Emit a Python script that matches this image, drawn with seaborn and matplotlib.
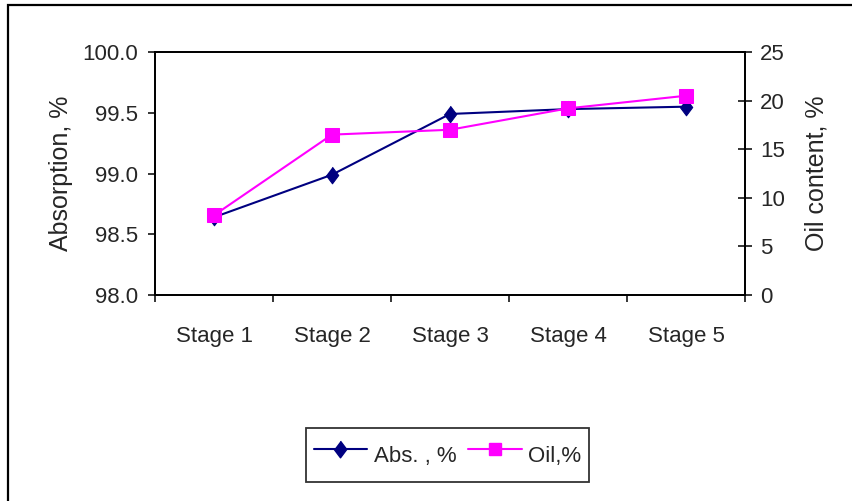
import matplotlib
matplotlib.use("Agg")
import matplotlib.pyplot as plt
from matplotlib.patches import Rectangle
from matplotlib.lines import Line2D
from matplotlib.ticker import FixedLocator, FormatStrFormatter
import pandas as pd
import seaborn as sns

# Data
stages = ["Stage 1", "Stage 2", "Stage 3", "Stage 4", "Stage 5"]
absorption = [98.64, 98.99, 99.49, 99.53, 99.55]
oil_content = [8.2, 16.5, 17.0, 19.2, 20.5]
left_ticks = [98.0, 98.5, 99.0, 99.5, 100.0]
right_ticks = [0, 5, 10, 15, 20, 25]

sns.set_style("white")
plt.rcParams["font.family"] = ["Liberation Sans", "DejaVu Sans"]
TICK_SIZE = 16

NAVY = "#000080"
MAGENTA = "#FF00FF"

df = pd.DataFrame({"stage": stages, "abs": absorption, "oil": oil_content})

fig = plt.figure(figsize=(8.52, 5.01), dpi=100)
fig.patch.set_facecolor("white")
ax = fig.add_axes([155 / 852, 1 - 295 / 501, 590 / 852, 243 / 501])
ax2 = ax.twinx()

diamond = [(0, 1), (0.75, 0), (0, -1), (-0.75, 0)]
D_SIZE = 12
S_SIZE = 10

sns.lineplot(data=df, x="stage", y="abs", ax=ax, color=NAVY, lw=1.5,
             marker=diamond, markersize=D_SIZE, markeredgecolor=NAVY,
             markerfacecolor=NAVY, sort=False, legend=False)
sns.lineplot(data=df, x="stage", y="oil", ax=ax2, color=MAGENTA, lw=1.5,
             marker="s", markersize=S_SIZE, markeredgecolor=MAGENTA,
             markerfacecolor=MAGENTA, sort=False, legend=False)

ax.set_xlim(-0.5, len(stages) - 0.5)
ax.set_ylim(98.0, 100.0)
ax2.set_ylim(0, 25)

# Category labels at centres, tick marks at category boundaries
ax.xaxis.set_major_locator(FixedLocator(range(len(stages))))
ax.set_xticklabels(stages, fontsize=TICK_SIZE)
ax.xaxis.set_minor_locator(FixedLocator([i - 0.5 for i in range(len(stages) + 1)]))
ax.tick_params(axis="x", which="major", length=0, pad=22)
ax.tick_params(axis="x", which="minor", direction="out", length=5, width=1.1,
               color="black", bottom=True)

ax.yaxis.set_major_locator(FixedLocator(left_ticks))
ax.yaxis.set_major_formatter(FormatStrFormatter("%.1f"))
ax.tick_params(axis="y", direction="out", length=5, width=1.1, color="black",
               pad=7, left=True, labelsize=TICK_SIZE)

ax2.yaxis.set_major_locator(FixedLocator(right_ticks))
ax2.yaxis.set_major_formatter(FormatStrFormatter("%d"))
ax2.tick_params(axis="y", direction="inout", length=10, width=1.1, color="black",
                pad=6, right=True, labelsize=TICK_SIZE)

ax.set_xlabel("")
ax.set_ylabel("Absorption, %", fontsize=18, labelpad=7)
ax2.set_ylabel("Oil content, %", fontsize=18, labelpad=14)

for a in (ax, ax2):
    for s in a.spines.values():
        s.set_visible(True)
        s.set_color("black")
        s.set_linewidth(1.3)

# Legend below the plot
handles = [
    Line2D([], [], color=NAVY, lw=1.5, marker=diamond, markersize=D_SIZE,
           markerfacecolor=NAVY, markeredgecolor=NAVY),
    Line2D([], [], color=MAGENTA, lw=1.5, marker="s", markersize=S_SIZE - 1,
           markerfacecolor=MAGENTA, markeredgecolor=MAGENTA),
]
leg = fig.legend(handles, ["Abs. , %", "Oil,%"], loc="center",
                 bbox_to_anchor=(447.5 / 852, 1 - 455 / 501), ncol=2,
                 frameon=True, fancybox=False, shadow=False,
                 prop={"size": TICK_SIZE},
                 handlelength=2.4, handleheight=2.35, handletextpad=0.3,
                 columnspacing=0.55, borderpad=0.32, borderaxespad=0)
leg.get_frame().set_edgecolor("black")
leg.get_frame().set_linewidth(1.3)

# Chart area border
fig.add_artist(Rectangle((8 / 852, -0.1), 1.2, 1 - 5 / 501 + 0.1,
                         transform=fig.transFigure, fill=False,
                         edgecolor="black", linewidth=1.6, clip_on=False))

fig.savefig("out.png", dpi=100, facecolor="white")
